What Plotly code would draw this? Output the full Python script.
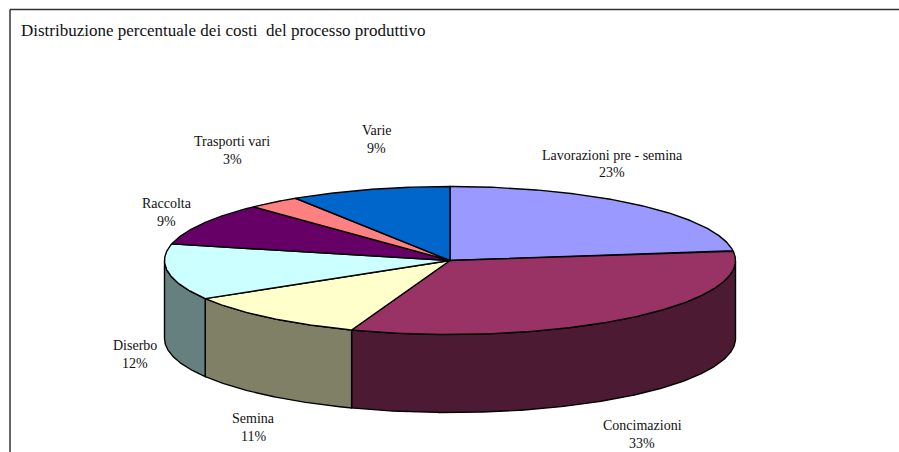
import numpy as np
import plotly.graph_objects as go

# Data
categories = ["Lavorazioni pre - semina", "Concimazioni", "Semina", "Diserbo",
              "Raccolta", "Trasporti vari", "Varie"]
values = [22.9, 32.7, 10.8, 12.2, 9.3, 3.0, 9.1]
top_colors = ["#9999FF", "#993366", "#FFFFCC", "#CCFFFF", "#660066", "#FF8080", "#0066CC"]
side_colors = ["#4D4D80", "#4C1A33", "#808066", "#668080", "#330033", "#804040", "#003366"]
title = "Distribuzione percentuale dei costi  del processo produttivo"

# Label anchor centres (name row y, percent row y)
label_x = [612, 642, 253, 135, 166.5, 232, 376.5]
label_y1 = [155, 425, 418, 345, 203, 141, 130]
label_y2 = [172, 443, 436, 363, 221, 159, 148]

# Pie projection
CX, CY, RX, RY, DEPTH = 450, 260.5, 285.5, 74, 78
LINE = dict(color="black", width=1.4)


def rim(a0, a1, dy=0.0):
    t = np.radians(np.linspace(a0, a1, max(int(abs(a1 - a0)) * 2, 2) + 1))
    return CX + RX * np.sin(t), CY - RY * np.cos(t) + dy


fractions = np.array(values) / sum(values)
edges = np.concatenate([[0], np.cumsum(fractions)]) * 360

fig = go.Figure()

# Side walls (front half only: 90..270 degrees clockwise from the top)
for i, name in enumerate(categories):
    a0, a1 = max(edges[i], 90), min(edges[i + 1], 270)
    if a1 <= a0:
        continue
    xt, yt = rim(a0, a1)
    xb, yb = rim(a1, a0, DEPTH)
    fig.add_trace(go.Scatter(
        x=np.r_[xt, xb, xt[0]], y=np.r_[yt, yb, yt[0]], mode="lines", fill="toself",
        fillcolor=side_colors[i], line=LINE, name=name, showlegend=False, hoverinfo="skip"))

# Top faces
for i, name in enumerate(categories):
    xt, yt = rim(edges[i], edges[i + 1])
    fig.add_trace(go.Scatter(
        x=np.r_[CX, xt, CX], y=np.r_[CY, yt, CY], mode="lines", fill="toself",
        fillcolor=top_colors[i], line=LINE, name=name, showlegend=False,
        text=f"{name}: {values[i]:.0f}%", hoverinfo="text"))

# Labels
font = dict(family="Liberation Serif", size=14, color="#111111")
for i, name in enumerate(categories):
    fig.add_annotation(x=label_x[i], y=label_y1[i], text=name, showarrow=False, font=font)
    fig.add_annotation(x=label_x[i], y=label_y2[i], text=f"{values[i]:.0f}%", showarrow=False, font=font)

fig.add_annotation(x=19, y=30, text=title, showarrow=False, xanchor="left",
                   font=dict(family="Liberation Serif", size=17, color="#111111"))

# Chart frame
frame = dict(color="#333333", width=1.5)
fig.add_shape(type="line", x0=10, x1=899, y0=9.5, y1=9.5, line=frame)
fig.add_shape(type="line", x0=10, x1=10, y0=9.5, y1=452, line=frame)

fig.update_xaxes(range=[0, 899], visible=False, fixedrange=True)
fig.update_yaxes(range=[452, 0], visible=False, fixedrange=True)
fig.update_layout(width=899, height=452, margin=dict(l=0, r=0, t=0, b=0),
                  paper_bgcolor="white", plot_bgcolor="white", showlegend=False)
fig.write_html("out.html", config=dict(displayModeBar=False),
               post_script="document.body.style.margin='0';document.documentElement.style.overflow='hidden';")
